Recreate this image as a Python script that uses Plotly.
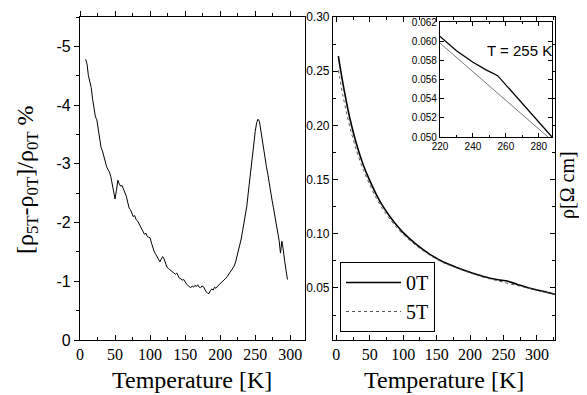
import plotly.graph_objects as go

W, H = 587, 395
OFF = 8  # page body margin offset
def fx(px): return (px - OFF) / W
def fy(px): return 1 - (px - OFF) / H

SERIF = "Liberation Serif"
SANS = "Liberation Sans"

# ---- left panel: magnetoresistance [rho5T - rho0T]/rho0T (%) ----
T_mr = [8, 10, 12, 14, 16, 18, 20, 22, 24, 26, 28, 30, 32, 34, 36, 38, 40, 42, 44, 46,
        48, 50, 52, 54, 56, 58, 60, 62, 64, 66, 68, 70, 72, 74, 76, 78, 80, 82, 84, 86,
        88, 90, 92, 94, 96, 98, 100, 102, 104, 106, 108, 110, 112, 114, 116, 118, 120,
        122, 124, 126, 128, 130, 132, 134, 136, 138, 140, 142, 144, 146, 148, 150, 152,
        154, 156, 158, 160, 162, 164, 166, 168, 170, 172, 174, 176, 178, 180, 182, 184,
        186, 188, 190, 192, 194, 196, 198, 200, 202, 204, 206, 208, 210, 212, 214, 216,
        218, 220, 222, 224, 226, 228, 230, 232, 234, 236, 238, 240, 242, 244, 246, 248,
        250, 252, 254, 256, 258, 260, 262, 264, 266, 268, 270, 272, 274, 276, 278, 280,
        282, 284, 286, 287, 288, 289, 290, 292, 294, 296]
MR = [-4.78, -4.70, -4.50, -4.42, -4.30, -4.10, -3.95, -3.80, -3.75, -3.60, -3.42, -3.28,
      -3.22, -3.12, -3.05, -2.95, -2.90, -2.86, -2.78, -2.65, -2.55, -2.40, -2.55, -2.72,
      -2.66, -2.62, -2.63, -2.57, -2.52, -2.45, -2.35, -2.25, -2.22, -2.15, -2.10, -2.12,
      -2.05, -2.03, -1.98, -1.93, -1.88, -1.85, -1.80, -1.82, -1.76, -1.75, -1.74, -1.65,
      -1.55, -1.50, -1.46, -1.42, -1.36, -1.33, -1.38, -1.42, -1.38, -1.30, -1.24, -1.22,
      -1.20, -1.18, -1.17, -1.15, -1.12, -1.14, -1.09, -1.05, -1.04, -1.02, -1.03, -0.98,
      -0.95, -0.93, -0.90, -0.89, -0.92, -0.90, -0.93, -0.91, -0.94, -0.90, -0.89, -0.92,
      -0.91, -0.86, -0.82, -0.80, -0.79, -0.84, -0.87, -0.85, -0.90, -0.88, -0.92, -0.94,
      -0.96, -0.98, -1.00, -1.03, -1.05, -1.08, -1.12, -1.15, -1.19, -1.22, -1.26, -1.33,
      -1.42, -1.52, -1.60, -1.72, -1.86, -1.98, -2.15, -2.28, -2.50, -2.72, -2.95, -3.15,
      -3.35, -3.55, -3.70, -3.76, -3.72, -3.55, -3.38, -3.20, -3.10, -2.95, -2.82, -2.65,
      -2.50, -2.38, -2.25, -2.12, -1.98, -1.85, -1.70, -1.48, -1.58, -1.68, -1.62, -1.55,
      -1.35, -1.18, -1.03]

# ---- right panel: resistivity (Ohm cm) ----
T_rho = [3, 5, 10, 15, 20, 30, 40, 50, 60, 70, 80, 90, 100, 120, 140, 160, 180, 200, 210,
         220, 230, 240, 248, 255, 270, 288, 300, 315, 327]
rho_0T = [0.264, 0.256, 0.238, 0.222, 0.207, 0.183, 0.164, 0.149, 0.136, 0.125, 0.116,
          0.108, 0.101, 0.090, 0.081, 0.074, 0.069, 0.0645, 0.0625, 0.0605, 0.0590, 0.0578,
          0.0570, 0.0564, 0.0535, 0.0500, 0.0482, 0.0460, 0.0442]
rho_5T = [0.251, 0.2436, 0.2268, 0.2123, 0.1988, 0.1770, 0.1592, 0.1453, 0.1324, 0.1222,
          0.1136, 0.1060, 0.0992, 0.0888, 0.0801, 0.0733, 0.0684, 0.0639, 0.0618, 0.0598,
          0.0583, 0.0568, 0.0556, 0.0545, 0.0523, 0.0496, 0.0478, 0.0456, 0.0438]

x_ticks_main = [0, 50, 100, 150, 200, 250, 300]
left_y_ticks = [0, -1, -2, -3, -4, -5]
left_y_text = ["0", "-1", "-2", "-3", "-4", "-5"]
right_y_ticks = [0.05, 0.10, 0.15, 0.20, 0.25, 0.30]
right_y_text = ["0.05", "0.10", "0.15", "0.20", "0.25", "0.30"]
inset_x_ticks = [220, 240, 260, 280]
inset_y_ticks = [0.050, 0.052, 0.054, 0.056, 0.058, 0.060, 0.062]
inset_y_text = ["0.050", "0.052", "0.054", "0.056", "0.058", "0.060", "0.062"]

fig = go.Figure()
fig.add_trace(go.Scatter(x=T_mr, y=MR, mode="lines", line=dict(color="black", width=1),
                         xaxis="x", yaxis="y", showlegend=False))
fig.add_trace(go.Scatter(x=[0], y=[None], mode="lines", xaxis="x3", yaxis="y",
                         showlegend=False, hoverinfo="skip"))
fig.add_trace(go.Scatter(x=T_rho, y=rho_0T, mode="lines", name="0T",
                         line=dict(color="black", width=1.6, shape="spline", smoothing=0.6),
                         xaxis="x2", yaxis="y2"))
fig.add_trace(go.Scatter(x=T_rho, y=rho_5T, mode="lines", name="5T",
                         line=dict(color="#555555", width=1, dash="dot", shape="spline", smoothing=0.6),
                         xaxis="x2", yaxis="y2"))
fig.add_trace(go.Scatter(x=T_rho, y=rho_0T, mode="lines", showlegend=False,
                         line=dict(color="black", width=1.3), xaxis="x4", yaxis="y4"))
fig.add_trace(go.Scatter(x=T_rho, y=rho_5T, mode="lines", showlegend=False,
                         line=dict(color="#555555", width=0.8), xaxis="x4", yaxis="y4"))

axcommon = dict(showline=True, linecolor="black", linewidth=1.2, showgrid=False,
                zeroline=False, tickcolor="black", tickwidth=1, automargin=False)

fig.update_layout(
    width=W, height=H, margin=dict(l=0, r=0, t=0, b=0, pad=0, autoexpand=False),
    paper_bgcolor="white", plot_bgcolor="white",
    xaxis=dict(**axcommon, domain=[fx(80), fx(305)], range=[0, 321], anchor="y",
               mirror=True, ticks="inside", ticklen=5, tickvals=x_ticks_main,
               minor=dict(ticks="inside", ticklen=3, dtick=25, tick0=0, tickcolor="black"),
               tickfont=dict(family=SERIF, size=16, color="black")),
    xaxis3=dict(overlaying="x", side="top", anchor="y", range=[0, 321], showline=False,
                showgrid=False, zeroline=False, ticks="outside", ticklen=5, tickcolor="black",
                tickvals=x_ticks_main, showticklabels=False, automargin=False,
                minor=dict(ticks="outside", ticklen=3, dtick=25, tick0=0, tickcolor="black")),
    yaxis=dict(**axcommon, domain=[fy(340), fy(17)], range=[0, -5.5], anchor="x",
               mirror=True, ticks="outside", ticklen=5, tickvals=left_y_ticks,
               ticktext=left_y_text,
               minor=dict(ticks="outside", ticklen=3, dtick=0.5, tick0=0, tickcolor="black"),
               tickfont=dict(family=SANS, size=16, color="black")),
    xaxis2=dict(**axcommon, domain=[fx(333), fx(555)], range=[-5, 327], anchor="y2",
                mirror="ticks", ticks="inside", ticklen=5, tickvals=x_ticks_main,
                minor=dict(ticks="inside", ticklen=3, dtick=25, tick0=0, tickcolor="black"),
                tickfont=dict(family=SERIF, size=16, color="black")),
    yaxis2=dict(**axcommon, domain=[fy(340), fy(17)], range=[0.002, 0.30], anchor="x2",
                mirror="ticks", ticks="inside", ticklen=5, tickvals=right_y_ticks,
                ticktext=right_y_text,
                minor=dict(ticks="inside", ticklen=3, dtick=0.025, tick0=0, tickcolor="black"),
                tickfont=dict(family=SANS, size=12, color="black")),
    xaxis4=dict(**axcommon, domain=[fx(440), fx(552)], range=[220, 288], anchor="y4",
                mirror="ticks", ticks="inside", ticklen=4, tickvals=inset_x_ticks,
                minor=dict(ticks="inside", ticklen=2, dtick=10, tick0=220, tickcolor="black"),
                tickfont=dict(family=SANS, size=10, color="black")),
    yaxis4=dict(**axcommon, domain=[fy(137), fy(22)], range=[0.050, 0.062], anchor="x4",
                mirror="ticks", ticks="inside", ticklen=4, tickvals=inset_y_ticks,
                ticktext=inset_y_text,
                tickfont=dict(family=SANS, size=10, color="black")),
    legend=dict(x=fx(340), y=fy(262), xanchor="left", yanchor="top",
                bordercolor="black", borderwidth=1, bgcolor="white",
                font=dict(family=SERIF, size=20, color="black"), itemwidth=55,
                tracegroupgap=0),
    annotations=[
        dict(text="Temperature [K]", x=fx(192), y=fy(380), xref="paper", yref="paper",
             xanchor="center", yanchor="middle",
             showarrow=False, font=dict(family=SERIF, size=24, color="black")),
        dict(text="Temperature [K]", x=fx(444), y=fy(380), xref="paper", yref="paper",
             xanchor="center", yanchor="middle",
             showarrow=False, font=dict(family=SERIF, size=24, color="black")),
        dict(text="[ρ<sub>5T</sub>-ρ<sub>0T</sub>]/ρ<sub>0T</sub> %", x=fx(27), y=fy(180),
             xref="paper", yref="paper", showarrow=False, textangle=-90,
             xanchor="center", yanchor="middle",
             font=dict(family=SERIF, size=24, color="black")),
        dict(text="ρ[Ω cm]", x=fx(568), y=fy(185), xref="paper", yref="paper",
             xanchor="center", yanchor="middle",
             showarrow=False, textangle=-90, font=dict(family=SERIF, size=20, color="black")),
        dict(text="T = 255 K", x=fx(519), y=fy(50), xref="paper", yref="paper",
             xanchor="center", yanchor="middle",
             showarrow=False, font=dict(family=SANS, size=15, color="black")),
    ],
)

fig.write_html("out.html")
